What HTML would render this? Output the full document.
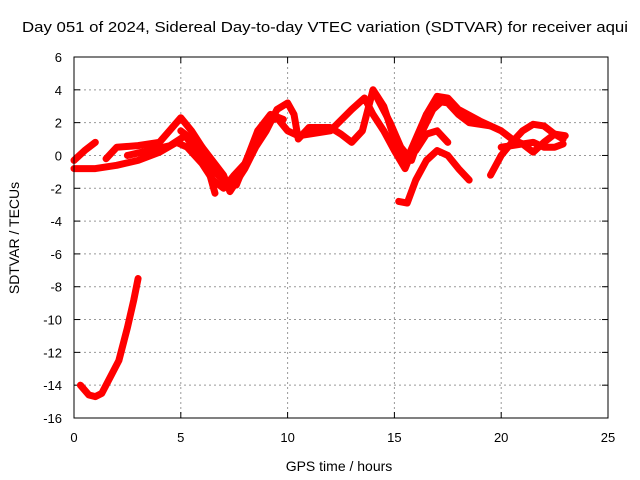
<!DOCTYPE html>
<html><head><meta charset="utf-8"><style>
body{margin:0;background:#fff}
svg{display:block;font-family:"Liberation Sans",sans-serif}
</style></head><body>
<svg id="c" width="640" height="480">
<text x="22" y="32" font-size="15" textLength="606" lengthAdjust="spacingAndGlyphs">Day 051 of 2024, Sidereal Day-to-day VTEC variation (SDTVAR) for receiver aqui</text>
<text x="339" y="471" font-size="14" text-anchor="middle">GPS time / hours</text>
<text transform="translate(19,238) rotate(-90)" font-size="14" text-anchor="middle">SDTVAR / TECUs</text>
<g id="grid"></g><g id="marks"></g>
<rect x="74" y="57" width="534" height="361" fill="none" stroke="#000"/>
</svg>
<script>
const xTicks=[0,5,10,15,20,25];
const yTicks=[6,4,2,0,-2,-4,-6,-8,-10,-12,-14,-16];
const seriesA=[[0,-0.8],[1,-0.8],[2,-0.6],[3,-0.3],[4,0.2],[4.8,0.8],[5.3,0.5],[6,-0.5],[6.5,-1.5],[7,-2],[7.5,-1.2],[8,-0.5],[8.5,1],[9,2],[9.5,2.3],[10,1.5],[10.5,1.2],[11,1.3],[12,1.5],[13,2.8],[13.6,3.5],[14,2.5],[14.5,1.5],[15,0.3],[15.5,-0.8],[16,0.8],[16.5,2.5],[17,3.3],[17.5,3.2],[18,2.5],[18.5,2],[19.5,1.8]];
const seriesB=[[0,-0.3],[0.5,0.3],[1,0.8]];
const seriesC=[[1.5,-0.2],[2,0.5],[3,0.6],[4,0.8],[5,2.3],[5.5,1.5],[6,0.5],[6.6,-2.3]];
const seriesD=[[5,1.5],[6,0.5],[7,-1.2],[7.3,-2.2],[8,-0.8],[8.5,0.5],[9,1.5],[9.5,2.8],[10,3.2],[10.3,2.5],[10.5,1.0],[11,1.7],[12,1.7],[12.5,1.3],[13,0.8],[13.5,1.5],[14,4],[14.5,3],[15,1],[15.5,-0.5],[16,1],[16.5,2.5],[17,3.6],[17.5,3.5],[18,2.8],[19,2.1],[20,1.5],[20.5,1],[21,0.7],[21.5,0.2],[22,0.8],[22.5,1.3],[23,1.2]];
const seriesE=[[15.2,-2.8],[15.6,-2.9],[16,-1.5],[16.5,-0.3],[17,0.3],[17.5,0],[18,-0.8],[18.5,-1.5]];
const seriesF=[[16,0.3],[16.5,1.3],[17,1.5],[17.5,0.8]];
const seriesG=[[19.5,-1.2],[20,0],[20.5,0.8],[21,1.5],[21.5,1.9],[22,1.8],[22.5,1.3],[22.9,1.0]];
const seriesH=[[20,0.5],[21,0.7],[21.5,0.8],[22,0.5],[22.5,0.5],[22.9,0.7]];
const seriesI=[[0.3,-14],[0.7,-14.6],[1,-14.7],[1.3,-14.5],[1.7,-13.5],[2.1,-12.5],[2.5,-10.5],[2.8,-8.8],[3,-7.5]];
const seriesJ=[[2.5,0],[3.5,0.3],[4.5,0.6],[5.2,1.2],[5.8,0.2],[6.4,-0.8],[7,-1.5],[7.6,-1.8],[8.1,-0.2],[8.6,1.5],[9.2,2.5],[9.8,2.2]];
const seriesK=[[14.2,3.5],[14.8,2],[15.3,0.5],[15.8,-0.3],[16.2,1.2],[16.8,2.8],[17.3,3.4]];
const allSeries=[seriesA,seriesB,seriesC,seriesD,seriesE,seriesF,seriesG,seriesH,seriesI,seriesJ,seriesK];
const X=t=>74+t*534/25, Y=v=>57+(6-v)*361/22;
const NS='http://www.w3.org/2000/svg';
const svg=document.getElementById('c'),grid=document.getElementById('grid'),marks=document.getElementById('marks');
function mk(tag,attrs,parent){const e=document.createElementNS(NS,tag);for(const k in attrs)e.setAttribute(k,attrs[k]);parent.appendChild(e);return e;}
xTicks.forEach(t=>{const x=X(t);
 if(t>0&&t<25){const g=mk('line',{x1:x,x2:x,y1:57,y2:418,stroke:'#999','stroke-dasharray':'2,3'},grid);
 
 }
 mk('line',{x1:x,x2:x,y1:418,y2:412,stroke:'#000'},grid);mk('line',{x1:x,x2:x,y1:57,y2:63,stroke:'#000'},grid);
 const l=mk('text',{x:x,y:442,'font-size':13,'text-anchor':'middle'},svg);l.textContent=t;
 
 });
yTicks.forEach(v=>{const y=Y(v);
 if(v<6&&v>-16){const g=mk('line',{x1:74,x2:608,y1:y,y2:y,stroke:'#999','stroke-dasharray':'2,3'},grid);
 
 }
 mk('line',{x1:74,x2:80,y1:y,y2:y,stroke:'#000'},grid);mk('line',{x1:602,x2:608,y1:y,y2:y,stroke:'#000'},grid);
 const l=mk('text',{x:62,y:y+5,'font-size':13,'text-anchor':'end'},svg);l.textContent=v;
 
 });
allSeries.forEach((s,i)=>{const p=mk('polyline',{points:s.map(d=>X(d[0])+','+Y(d[1])).join(' '),fill:'none',stroke:'#f00','stroke-width':7,'stroke-linejoin':'round','stroke-linecap':'round'},marks);
 
 });
</script>
</body></html>
